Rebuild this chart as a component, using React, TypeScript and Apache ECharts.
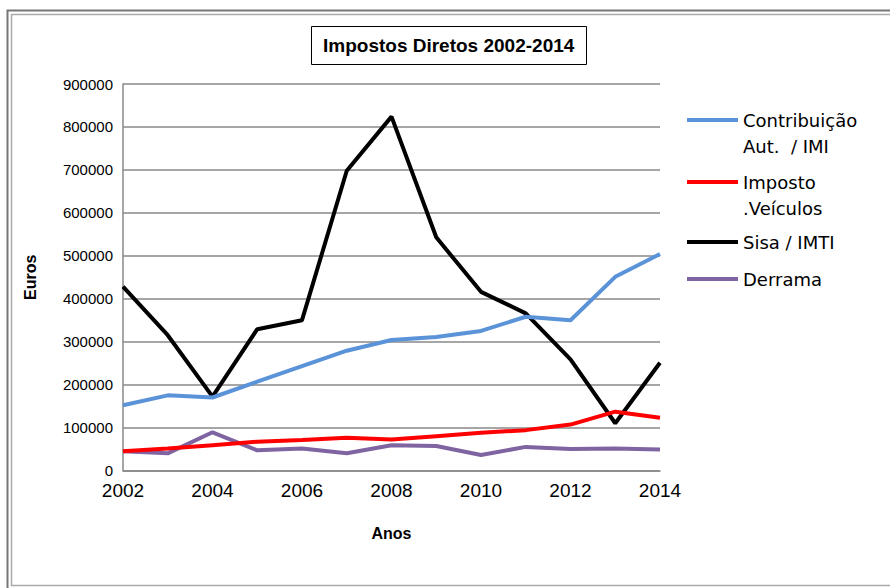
import React, { useEffect, useRef } from "react";
import * as echarts from "echarts";

const years = [2002, 2003, 2004, 2005, 2006, 2007, 2008, 2009, 2010, 2011, 2012, 2013, 2014];
const contribuicao = [152000, 175000, 170000, 207000, 243000, 279000, 304000, 311000, 325000, 358000, 350000, 451000, 504000];
const impostoVeiculos = [45000, 51000, 59000, 67000, 71000, 76000, 72000, 80000, 88000, 94000, 107000, 137000, 123000];
const sisa = [428000, 315000, 172000, 329000, 350000, 698000, 824000, 543000, 416000, 366000, 259000, 110000, 251000];
const derrama = [45000, 40000, 89000, 47000, 51000, 40000, 59000, 57000, 36000, 55000, 50000, 51000, 49000];

const seriesNames = ["Contribuição Aut.  / IMI", "Imposto .Veículos", "Sisa / IMTI", "Derrama"];
const legendLabels = ["\nContribuição\nAut.  / IMI", "\nImposto\n.Veículos", "Sisa / IMTI", "Derrama"];
const colors = ["#5B93D8", "#FF0000", "#000000", "#8064A2"];

const FONT = "'Liberation Sans', Arial, sans-serif";
const LEGEND_FONT = "'DejaVu Sans', sans-serif";

export default function App() {
  const ref = useRef<HTMLDivElement>(null);
  useEffect(() => {
    if (!ref.current) return;
    const chart = echarts.init(ref.current, undefined, { renderer: "svg" });
    const datasets = [contribuicao, impostoVeiculos, sisa, derrama];
    const legendTops = [81, 143, 229, 266];
    const LH = 26;
    chart.setOption({
      animation: false,
      backgroundColor: "#fff",
      textStyle: { fontFamily: FONT },
      title: {
        text: "Impostos Diretos 2002-2014",
        left: 311,
        top: 26,
        padding: [10, 12, 10, 12],
        borderColor: "#000",
        borderWidth: 1,
        textStyle: { fontFamily: FONT, fontWeight: "bold", fontSize: 19, color: "#000" },
      },
      graphic: [
        { type: "rect", shape: { x: 7.5, y: 10.5, width: 900, height: 600 }, style: { fill: "none", stroke: "#777", lineWidth: 2 }, silent: true },
        { type: "rect", shape: { x: 11.5, y: 14.5, width: 900, height: 571 }, style: { fill: "none", stroke: "#aaa", lineWidth: 1.5 }, silent: true },
      ],
      legend: seriesNames.map((n, i) => ({
        data: [n],
        left: 687,
        top: legendTops[i],
        padding: 0,
        icon: "rect",
        itemWidth: 51,
        itemHeight: 4,
        itemGap: 0,
        selectedMode: false,
        formatter: () => legendLabels[i],
        textStyle: {
          fontFamily: LEGEND_FONT,
          fontSize: 18,
          color: "#000",
          lineHeight: LH,
        },
      })),
      grid: { left: 123, right: 230, top: 84, bottom: 117.5, containLabel: false },
      xAxis: {
        type: "value",
        min: 2002,
        max: 2014,
        interval: 2,
        name: "Anos",
        nameLocation: "middle",
        nameGap: 55,
        nameTextStyle: { fontFamily: FONT, fontWeight: "bold", fontSize: 16, color: "#000" },
        axisLine: { show: true, lineStyle: { color: "#888", width: 1.5 } },
        axisTick: { show: false },
        splitLine: { show: false },
        axisLabel: { fontSize: 19, color: "#000", margin: 10, fontFamily: FONT, formatter: (v: number) => String(v) },
      },
      yAxis: {
        type: "value",
        min: 0,
        max: 900000,
        interval: 100000,
        name: "Euros",
        nameLocation: "middle",
        nameGap: 85,
        nameRotate: 90,
        nameTextStyle: { fontFamily: FONT, fontWeight: "bold", fontSize: 16, color: "#000" },
        axisLine: { show: true, lineStyle: { color: "#888", width: 1.5 } },
        axisTick: { show: false },
        splitLine: { show: true, lineStyle: { color: "#888", width: 1.5 } },
        axisLabel: { fontSize: 15, color: "#000", margin: 10, fontFamily: FONT, formatter: (v: number) => String(v) },
      },
      series: seriesNames.map((n, i) => ({
        name: n,
        type: "line",
        data: years.map((y, j) => [y, datasets[i][j]]),
        showSymbol: false,
        symbol: "none",
        lineStyle: { color: colors[i], width: 4 },
        itemStyle: { color: colors[i] },
        z: 2 + (3 - i),
      })),
    });
    return () => chart.dispose();
  }, []);
  return (
    <div
      ref={ref}
      style={{ position: "absolute", left: 0, top: 0, width: 890, height: 588 }}
    />
  );
}
